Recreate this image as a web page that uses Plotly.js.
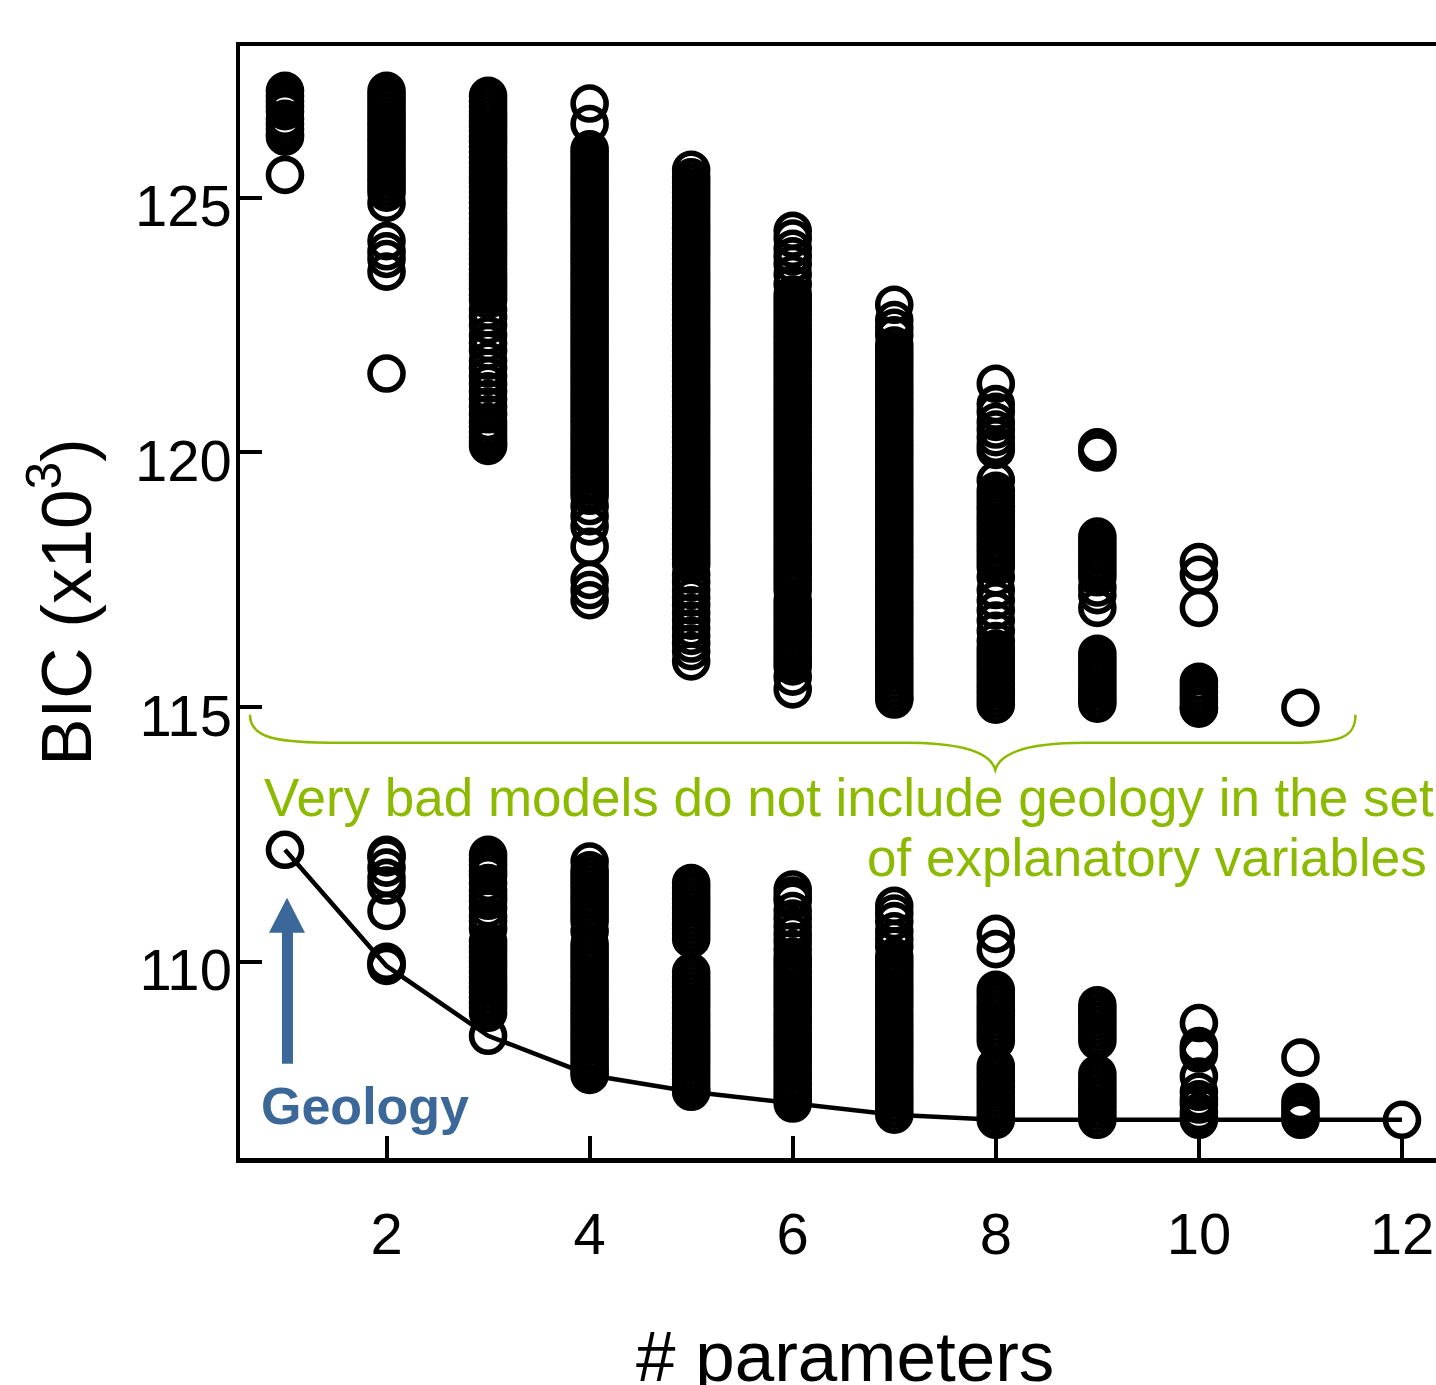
<!DOCTYPE html>
<html>
<head>
<meta charset="utf-8">
<script src="https://cdn.plot.ly/plotly-3.0.1.min.js"></script>
<style>
  html, body { margin: 0; padding: 0; background: #ffffff; }
  #chart { width: 1436px; height: 1385px; }
</style>
</head>
<body>
<div id="chart"></div>
<script>
// ---- data (BIC values in thousands, one array per number of parameters) ----
const nParams = [1, 2, 3, 4, 5, 6, 7, 8, 9, 10, 11, 12];
const tickVals = [2, 4, 6, 8, 10, 12];
const yTickVals = [110, 115, 120, 125];

const bic1 = [127.1, 127.0, 126.9, 126.8, 126.7, 126.55, 126.45, 126.35, 126.25, 126.2, 125.45, 112.2];

const bic2 = [127.1, 127.0, 126.9, 126.8, 126.7, 126.6, 126.5, 126.4, 126.3, 126.2, 126.1, 126.0, 125.9, 125.8,
  125.7, 125.6, 125.5, 125.4, 125.3, 125.2, 125.1, 124.9, 124.15, 123.95, 123.8, 123.55, 121.55,
  112.1, 112.05, 111.85, 111.65, 111.5, 111.0, 110.0, 109.95, 109.92];

const bic3 = [127.0, 126.9, 126.8, 126.7, 126.6, 126.5, 126.4, 126.3, 126.2, 126.1, 126.0, 125.9, 125.8, 125.7,
  125.6, 125.5, 125.4, 125.3, 125.2, 125.1, 125.0, 124.9, 124.8, 124.7, 124.6, 124.5, 124.4, 124.3, 124.2, 124.1,
  124.0, 123.9, 123.8, 123.7, 123.6, 123.5, 123.4, 123.3, 123.2, 123.1, 123.0,
  122.8, 122.65, 122.5, 122.3, 122.15, 122.0, 121.8, 121.65, 121.5, 121.35, 121.2, 121.05, 120.9, 120.75,
  120.6, 120.5, 120.4, 120.3, 120.2, 120.13,
  112.1, 112.0, 111.9, 111.8, 111.7, 111.55, 111.4, 111.3, 111.2, 111.05, 110.9, 110.8, 110.65, 110.4, 110.3,
  110.2, 110.1, 110.0, 109.9, 109.8, 109.7, 109.6, 109.5, 109.4, 109.3, 109.2, 109.1, 109.0, 108.55];

const bic4 = [126.85, 126.45, 125.95, 125.85, 125.75, 125.65, 125.55, 125.45, 125.35, 125.25, 125.15, 125.05,
  124.95, 124.85, 124.75, 124.65, 124.55, 124.45, 124.35, 124.25, 124.15, 124.05, 123.95, 123.85, 123.75, 123.65,
  123.55, 123.45, 123.35, 123.25, 123.15, 123.05, 122.95, 122.85, 122.75, 122.65, 122.55, 122.45, 122.35, 122.25,
  122.15, 122.05, 121.95, 121.85, 121.75, 121.65, 121.55, 121.45, 121.35, 121.25, 121.15, 121.05, 120.95, 120.85,
  120.75, 120.65, 120.55, 120.45, 120.35, 120.25, 120.15, 120.05, 119.95, 119.85, 119.75, 119.65, 119.55, 119.45,
  119.35, 119.25, 119.15, 118.95, 118.75, 118.55, 118.15, 117.5, 117.3, 117.1,
  111.97, 111.8, 111.7, 111.6, 111.5, 111.4, 111.3, 111.2, 111.1, 111.0, 110.9, 110.8, 110.6, 110.35, 110.25,
  110.15, 110.05, 109.95, 109.85, 109.75, 109.65, 109.55, 109.45, 109.35, 109.25, 109.15, 109.05, 108.95, 108.85,
  108.75, 108.65, 108.55, 108.45, 108.35, 108.25, 108.15, 108.05, 107.95, 107.85, 107.78];

const bic5 = [125.55, 125.4, 125.3, 125.2, 125.1, 125.0, 124.9, 124.8, 124.7, 124.6, 124.5, 124.4, 124.3, 124.2,
  124.1, 124.0, 123.9, 123.8, 123.7, 123.6, 123.5, 123.4, 123.3, 123.2, 123.1, 123.0, 122.9, 122.8, 122.7, 122.6,
  122.5, 122.4, 122.3, 122.2, 122.1, 122.0, 121.9, 121.8, 121.7, 121.6, 121.5, 121.4, 121.3, 121.2, 121.1, 121.0,
  120.9, 120.8, 120.7, 120.6, 120.5, 120.4, 120.3, 120.2, 120.1, 120.0, 119.9, 119.8, 119.7, 119.6, 119.5, 119.4,
  119.3, 119.2, 119.1, 119.0, 118.9, 118.8, 118.7, 118.6, 118.5, 118.4, 118.3, 118.2, 118.1, 118.0, 117.9, 117.8,
  117.6, 117.45, 117.3, 117.15, 117.0, 116.85, 116.7, 116.55, 116.4, 116.25, 116.1, 115.9,
  111.55, 111.45, 111.35, 111.25, 111.15, 111.05, 110.95, 110.85, 110.75, 110.65, 110.55, 110.45,
  109.8, 109.7, 109.6, 109.5, 109.4, 109.3, 109.2, 109.1, 109.0, 108.9, 108.8, 108.7, 108.6, 108.5, 108.4,
  108.3, 108.2, 108.1, 108.0, 107.9, 107.8, 107.7, 107.6, 107.5, 107.45];

const bic6 = [124.35, 124.2, 124.0, 123.85, 123.7, 123.5, 123.3, 123.1, 123.0, 122.9, 122.8, 122.7, 122.6, 122.5,
  122.4, 122.3, 122.2, 122.1, 122.0, 121.9, 121.8, 121.7, 121.6, 121.5, 121.4, 121.3, 121.2, 121.1, 121.0, 120.9,
  120.8, 120.7, 120.6, 120.5, 120.4, 120.3, 120.2, 120.1, 120.0, 119.9, 119.8, 119.7, 119.6, 119.5, 119.4, 119.3,
  119.2, 119.1, 119.0, 118.9, 118.8, 118.7, 118.6, 118.5, 118.4, 118.3, 118.2, 118.1, 118.0, 117.9, 117.8, 117.7,
  117.6, 117.5, 117.4, 117.3, 117.1, 117.0, 116.9, 116.8, 116.7, 116.6, 116.5, 116.4, 116.3, 116.2, 116.1, 116.0,
  115.9, 115.8, 115.6, 115.35,
  111.42, 111.3, 111.2, 111.0, 110.85, 110.7, 110.55, 110.4, 110.25, 110.1, 110.0, 109.9, 109.8, 109.7, 109.6,
  109.5, 109.4, 109.3, 109.2, 109.1, 109.0, 108.9, 108.8, 108.7, 108.6, 108.5, 108.4, 108.3, 108.2, 108.1, 108.0,
  107.9, 107.8, 107.7, 107.6, 107.5, 107.4, 107.3, 107.22];

const bic7 = [122.9, 122.6, 122.45, 122.3, 122.1, 122.0, 121.9, 121.8, 121.7, 121.6, 121.5, 121.4, 121.3, 121.2,
  121.1, 121.0, 120.9, 120.8, 120.7, 120.6, 120.5, 120.4, 120.3, 120.2, 120.1, 120.0, 119.9, 119.8, 119.7, 119.6,
  119.5, 119.4, 119.3, 119.2, 119.1, 119.0, 118.9, 118.8, 118.7, 118.6, 118.5, 118.4, 118.3, 118.2, 118.1, 118.0,
  117.9, 117.8, 117.7, 117.6, 117.5, 117.4, 117.3, 117.2, 117.1, 117.0, 116.9, 116.8, 116.7, 116.6, 116.5, 116.4,
  116.3, 116.2, 116.1, 116.0, 115.9, 115.8, 115.7, 115.6, 115.5, 115.4, 115.3, 115.2, 115.15,
  111.1, 110.95, 110.8, 110.6, 110.45, 110.3, 110.1, 110.0, 109.9, 109.8, 109.7, 109.6, 109.5, 109.4, 109.3,
  109.2, 109.1, 109.0, 108.9, 108.8, 108.7, 108.6, 108.5, 108.4, 108.3, 108.2, 108.1, 108.0, 107.9, 107.8, 107.7,
  107.6, 107.5, 107.4, 107.3, 107.2, 107.1, 107.0];

const bic8 = [121.35, 120.95, 120.8, 120.6, 120.45, 120.3, 120.15, 120.05, 119.45, 119.25, 119.15, 119.05, 118.95,
  118.85, 118.75, 118.65, 118.55, 118.45, 118.35, 118.25, 118.15, 118.05, 117.95, 117.85, 117.75, 117.55, 117.3,
  117.1, 116.9, 116.7, 116.5, 116.3, 116.15, 116.05, 115.95, 115.85, 115.75, 115.65, 115.55, 115.45, 115.35,
  115.25, 115.15, 115.05,
  110.55, 110.25, 109.45, 109.35, 109.25, 109.15, 109.05, 108.95, 108.85, 108.75, 108.65, 108.55, 108.45,
  107.95, 107.85, 107.75, 107.65, 107.55, 107.45, 107.35, 107.25, 107.15, 107.05, 106.95, 106.9];

const bic9 = [120.1, 120.0, 118.35, 118.25, 118.15, 118.05, 117.95, 117.85, 117.75, 117.65, 117.55, 117.35, 117.2,
  116.95, 116.05, 115.95, 115.85, 115.75, 115.65, 115.55, 115.45, 115.35, 115.25, 115.15, 115.07,
  109.15, 109.05, 108.95, 108.85, 108.75, 108.65, 108.55, 108.45, 107.8, 107.7, 107.6, 107.5, 107.4, 107.3,
  107.2, 107.1, 107.0, 106.9];

const bic10 = [117.85, 117.6, 116.95, 115.5, 115.4, 115.3, 115.2, 115.1, 115.0, 114.97,
  108.8, 108.35, 108.28, 108.2, 107.75, 107.45, 107.3, 107.2, 107.05, 106.95, 106.9];

const bic11 = [114.99, 108.12, 107.25, 107.15, 107.05, 106.95, 106.9];

const bic12 = [106.9];

// best (minimum BIC) model for each number of parameters
const minBic = [112.2, 109.92, 108.55, 107.78, 107.45, 107.22, 107.0, 106.9, 106.9, 106.9, 106.9, 106.9];

// ---- texts ----
const annText1 = "Very bad models do not include geology in the set";
const annText2 = "of explanatory variables";
const geologyText = "Geology";
const xTitle = "# parameters";
const yTitle = "BIC (x10<sup>3</sup>)";

// ---- build traces ----
const columns = [bic1, bic2, bic3, bic4, bic5, bic6, bic7, bic8, bic9, bic10, bic11, bic12];
const xs = [], ys = [];
columns.forEach((vals, i) => vals.forEach(v => { xs.push(nParams[i]); ys.push(v); }));

const FONT = "Liberation Sans, Arial, Helvetica, sans-serif";
const GREEN = "#8cba00";
const BLUE = "#3b6898";

// plot-area geometry (pixels) used to place free texts in paper coordinates
const PL = 240, PT = 46, PW = 1196, PH = 1112;
const px = v => (v - PL) / PW;
const py = v => (PT + PH - v) / PH;

const traces = [
  {
    x: nParams, y: minBic, type: "scatter", mode: "lines",
    line: { color: "#000000", width: 4.5 }, hoverinfo: "skip"
  },
  {
    x: xs, y: ys, type: "scatter", mode: "markers",
    marker: { symbol: "circle", size: 33, color: "rgba(0,0,0,0)",
              line: { color: "#000000", width: 5.6 } },
    hoverinfo: "skip"
  }
];

const bracePath = "M 0.655,114.85 C 0.655,114.40 0.901,114.30 1.542,114.30 " +
  "L 7.108,114.30 C 7.650,114.30 7.946,114.12 7.995,113.77 " +
  "C 8.044,114.12 8.340,114.30 8.882,114.30 " +
  "L 10.901,114.30 C 11.394,114.30 11.542,114.40 11.542,114.85";

const arrowPath = "M 0.970,108.00 L 1.079,108.00 L 1.079,110.57 L 1.197,110.57 L 1.020,111.26 " +
  "L 0.842,110.57 L 0.970,110.57 Z";

const layout = {
  width: 1436, height: 1385,
  margin: { l: 240, r: 0, t: 46, b: 227, pad: 0 },
  paper_bgcolor: "#ffffff", plot_bgcolor: "#ffffff",
  showlegend: false,
  font: { family: FONT, color: "#000000" },
  xaxis: {
    range: [0.557, 12.335], tickvals: tickVals, ticktext: tickVals.map(String),
    ticks: "inside", ticklen: 22, tickwidth: 4, tickcolor: "#000000",
    showline: true, linewidth: 4.5, linecolor: "#000000", mirror: true,
    showgrid: false, zeroline: false,
    tickfont: { size: 58, family: FONT, color: "#000000" },
    ticklabelstandoff: 22
  },
  yaxis: {
    range: [106.15, 127.98], tickvals: yTickVals, ticktext: yTickVals.map(String),
    ticks: "inside", ticklen: 22, tickwidth: 4, tickcolor: "#000000",
    showline: true, linewidth: 4.5, linecolor: "#000000", mirror: false,
    showgrid: false, zeroline: false,
    tickfont: { size: 58, family: FONT, color: "#000000" },
    ticklabelstandoff: -8, ticklabelshift: 8,
    title: { text: yTitle, font: { size: 71, family: FONT, color: "#000000" }, standoff: 22 }
  },
  shapes: [
    { type: "path", xref: "x", yref: "y", path: bracePath,
      line: { color: GREEN, width: 2.5 }, fillcolor: "rgba(0,0,0,0)", layer: "above" },
    { type: "path", xref: "x", yref: "y", path: arrowPath,
      line: { color: BLUE, width: 0 }, fillcolor: BLUE, layer: "above" }
  ],
  annotations: [
    { xref: "paper", yref: "paper", x: 1.0, y: py(797), xanchor: "right", yanchor: "middle",
      text: annText1, showarrow: false, font: { size: 53, family: FONT, color: GREEN } },
    { xref: "paper", yref: "paper", x: px(1429), y: py(857), xanchor: "right", yanchor: "middle",
      text: annText2, showarrow: false, font: { size: 53, family: FONT, color: GREEN } },
    { xref: "paper", yref: "paper", x: px(365), y: py(1106), xanchor: "center", yanchor: "middle",
      text: "<b>" + geologyText + "</b>", showarrow: false, font: { size: 52, family: FONT, color: BLUE } },
    { xref: "paper", yref: "paper", x: px(845), y: py(1356), xanchor: "center", yanchor: "middle",
      text: xTitle, showarrow: false, font: { size: 71, family: FONT, color: "#000000" } }
  ]
};

Plotly.newPlot("chart", traces, layout, { staticPlot: true, displayModeBar: false });
</script>
</body>
</html>
